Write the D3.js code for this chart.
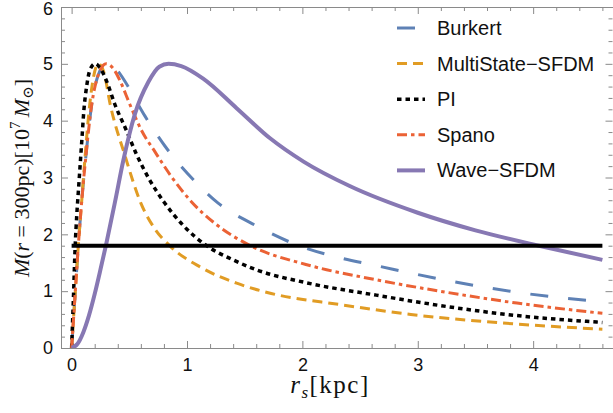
<!DOCTYPE html>
<html>
<head>
<meta charset="utf-8">
<script src="https://cdn.jsdelivr.net/npm/d3@7"></script>
<style>
  html, body { margin: 0; padding: 0; background: #fff; }
  svg { display: block; }
</style>
</head>
<body>
<svg id="chart" width="613" height="413"></svg>
<script>
// Enclosed mass M(r = 300 pc), in units of 1e7 Msun, against the scale radius r_s (kpc)
const burkertRs = [0, 0.03, 0.058, 0.087, 0.125, 0.174, 0.23, 0.30, 0.38, 0.463, 0.55, 0.636, 0.81, 1.07, 1.27, 1.6, 1.97, 2.3, 2.64, 3.25, 3.86, 4.6];
const burkertM  = [0, 0.93, 1.8, 2.57, 3.4, 4.28, 4.8, 5.0, 4.92, 4.69, 4.38, 4.08, 3.55, 2.93, 2.55, 2.15, 1.8, 1.6, 1.45, 1.19, 0.98, 0.81];

const multiStateRs = [0, 0.03, 0.058, 0.087, 0.12, 0.15, 0.18, 0.231, 0.28, 0.333, 0.46, 0.6, 0.72, 0.85, 1.12, 1.43, 1.73, 2.34, 2.94, 3.55, 4.6];
const multiStateM  = [0, 0.93, 1.8, 2.57, 3.45, 4.15, 4.65, 5.0, 4.85, 4.3, 3.4, 2.55, 2.1, 1.8, 1.42, 1.14, 0.96, 0.76, 0.59, 0.47, 0.33];

const piRs = [0, 0.015, 0.03, 0.045, 0.06, 0.075, 0.09, 0.105, 0.13, 0.16, 0.203, 0.25, 0.304, 0.376, 0.47, 0.564, 0.67, 0.8, 0.97, 1.17, 1.4, 1.61, 2.03, 2.64, 3.25, 3.86, 4.6];
const piM  = [0, 0.84, 1.75, 2.35, 2.8, 3.25, 3.7, 4.15, 4.6, 4.9, 5.0, 4.92, 4.69, 4.28, 3.85, 3.4, 2.98, 2.57, 2.15, 1.8, 1.55, 1.37, 1.15, 0.93, 0.73, 0.57, 0.45];

const spanoRs = [0, 0.03, 0.058, 0.087, 0.125, 0.174, 0.23, 0.30, 0.36, 0.42, 0.506, 0.6, 0.723, 0.87, 1.04, 1.25, 1.55, 2.03, 2.64, 3.25, 3.86, 4.6];
const spanoM  = [0, 0.93, 1.8, 2.57, 3.4, 4.28, 4.8, 5.0, 4.92, 4.7, 4.28, 3.85, 3.45, 3.0, 2.57, 2.18, 1.8, 1.47, 1.2, 0.98, 0.79, 0.61];

const waveRs = [0, 0.05, 0.1, 0.15, 0.2, 0.25, 0.3, 0.376, 0.448, 0.549, 0.665, 0.76, 0.84, 0.95, 1.14, 1.43, 1.72, 2.01, 2.41, 3.0, 3.5, 4.05, 4.6];
const waveM  = [0, 0.07, 0.27, 0.57, 0.95, 1.38, 1.83, 2.57, 3.3, 4.12, 4.68, 4.95, 5.0, 4.96, 4.74, 4.22, 3.69, 3.28, 2.85, 2.38, 2.07, 1.8, 1.55];

// Horizontal reference level and its extent in r_s
const referenceM = 1.8;
const referenceRs = [0, 4.6];

const seriesLabels = ["Burkert", "MultiState\u2212SFDM", "PI", "Spano", "Wave\u2212SFDM"];
const xTickValues = [0, 1, 2, 3, 4];
const xTickLabels = ["0", "1", "2", "3", "4"];
const yTickValues = [0, 1, 2, 3, 4, 5, 6];
const yTickLabels = ["0", "1", "2", "3", "4", "5", "6"];

// ---- drawing ----
const svg = d3.select("#chart");
const W = 613, H = 413;
const plot = { left: 61, right: 613, top: 7, bottom: 348 };

svg.append("rect").attr("width", W).attr("height", H).attr("fill", "#fff");

const x = d3.scaleLinear().domain([-0.092, 4.692]).range([plot.left, plot.right]);
const y = d3.scaleLinear().domain([0, 6]).range([plot.bottom, plot.top]);

const frameColor = "#8a8a8a";
const labelFont = "'Liberation Sans', Arial, Helvetica, sans-serif";
const mathFont = "'Liberation Serif', 'Times New Roman', 'DejaVu Serif', serif";

const isMinor = v => Math.abs(v - Math.round(v)) > 1e-6;
const xMinor = d3.range(0, 24).map(i => +(i * 0.2).toFixed(2)).filter(isMinor);
const yMinor = d3.range(0, 31).map(i => +(i * 0.2).toFixed(2)).filter(isMinor);

function styleAxis(g) {
  g.select(".domain").remove();
  g.selectAll(".tick line").attr("stroke", frameColor).attr("stroke-width", 1);
  g.selectAll(".tick text")
    .attr("fill", "#111")
    .style("font-family", labelFont)
    .style("font-size", "18px");
}

// bottom
svg.append("g").attr("transform", `translate(0,${plot.bottom})`)
  .call(d3.axisBottom(x).tickValues(xTickValues).tickFormat((d, i) => xTickLabels[i])
    .tickSizeInner(-7).tickSizeOuter(0).tickPadding(10))
  .call(styleAxis);
svg.append("g").attr("transform", `translate(0,${plot.bottom})`)
  .call(d3.axisBottom(x).tickValues(xMinor).tickFormat("").tickSizeInner(-4).tickSizeOuter(0))
  .call(styleAxis);
// top
svg.append("g").attr("transform", `translate(0,${plot.top})`)
  .call(d3.axisTop(x).tickValues(xTickValues).tickFormat("").tickSizeInner(-7).tickSizeOuter(0))
  .call(styleAxis);
svg.append("g").attr("transform", `translate(0,${plot.top})`)
  .call(d3.axisTop(x).tickValues(xMinor).tickFormat("").tickSizeInner(-4).tickSizeOuter(0))
  .call(styleAxis);
// left
const leftAxis = svg.append("g").attr("transform", `translate(${plot.left},0)`)
  .call(d3.axisLeft(y).tickValues(yTickValues).tickFormat((d, i) => yTickLabels[i])
    .tickSizeInner(-7).tickSizeOuter(0).tickPadding(8))
  .call(styleAxis);
// keep the topmost label inside the canvas
leftAxis.selectAll(".tick text").filter(d => d === 6).attr("dy", "0.36em").attr("y", 1);
svg.append("g").attr("transform", `translate(${plot.left},0)`)
  .call(d3.axisLeft(y).tickValues(yMinor).tickFormat("").tickSizeInner(-4).tickSizeOuter(0))
  .call(styleAxis);
// right
svg.append("g").attr("transform", `translate(${plot.right - 0.5},0)`)
  .call(d3.axisRight(y).tickValues(yTickValues).tickFormat("").tickSizeInner(-7).tickSizeOuter(0))
  .call(styleAxis);
svg.append("g").attr("transform", `translate(${plot.right - 0.5},0)`)
  .call(d3.axisRight(y).tickValues(yMinor).tickFormat("").tickSizeInner(-4).tickSizeOuter(0))
  .call(styleAxis);

// frame
svg.append("rect")
  .attr("x", plot.left + 0.5).attr("y", plot.top + 0.5)
  .attr("width", plot.right - plot.left).attr("height", plot.bottom - plot.top)
  .attr("fill", "none").attr("stroke", frameColor).attr("stroke-width", 1);

// curves
svg.append("defs").append("clipPath").attr("id", "plotClip")
  .append("rect").attr("x", plot.left).attr("y", plot.top)
  .attr("width", plot.right - plot.left).attr("height", plot.bottom - plot.top);

const series = [
  { label: seriesLabels[0], rs: burkertRs,    m: burkertM,    color: "#5E81B5", dash: "18,20",      width: 3 },
  { label: seriesLabels[1], rs: multiStateRs, m: multiStateM, color: "#E19C24", dash: "10,6",       width: 3 },
  { label: seriesLabels[2], rs: piRs,         m: piM,         color: "#000000", dash: "4.5,4",      width: 3.5 },
  { label: seriesLabels[3], rs: spanoRs,      m: spanoM,      color: "#EB6235", dash: "10,4,3.5,4", width: 3 },
  { label: seriesLabels[4], rs: waveRs,       m: waveM,       color: "#8778B3", dash: null,         width: 4 }
];

const line = d3.line().x(d => x(d[0])).y(d => y(d[1])).curve(d3.curveMonotoneX);
const curves = svg.append("g").attr("clip-path", "url(#plotClip)");

series.forEach(s => {
  const pts = s.rs.map((r, i) => [r, s.m[i]]);
  curves.append("path")
    .attr("d", line(pts))
    .attr("fill", "none")
    .attr("stroke", s.color)
    .attr("stroke-width", s.width)
    .attr("stroke-dasharray", s.dash)
    .attr("stroke-linejoin", "round");
});

curves.append("line")
  .attr("x1", x(referenceRs[0])).attr("x2", x(referenceRs[1]))
  .attr("y1", y(referenceM)).attr("y2", y(referenceM))
  .attr("stroke", "#000").attr("stroke-width", 4);

// legend
const legend = svg.append("g");
series.forEach((s, i) => {
  const base = 35 + i * 35.6;
  legend.append("line")
    .attr("x1", 397).attr("x2", 425)
    .attr("y1", base - 7).attr("y2", base - 7)
    .attr("stroke", s.color).attr("stroke-width", s.width)
    .attr("stroke-dasharray", s.dash);
  legend.append("text")
    .attr("x", 437).attr("y", base)
    .attr("fill", "#111")
    .style("font-family", labelFont)
    .style("font-size", "20px")
    .text(s.label);
});

// axis titles
const xt = svg.append("text")
  .attr("x", 330).attr("y", 393)
  .attr("text-anchor", "middle")
  .attr("fill", "#111")
  .style("font-family", mathFont)
  .style("font-size", "25px")
  .style("letter-spacing", "1.5px");
xt.append("tspan").style("font-style", "italic").text("r");
xt.append("tspan").style("font-style", "italic").style("font-size", "17px").attr("dy", 5).text("s");
xt.append("tspan").attr("dy", -5).text("[kpc]");

const yt = svg.append("text")
  .attr("transform", "translate(29,178) rotate(-90)")
  .attr("text-anchor", "middle")
  .attr("fill", "#111")
  .style("font-family", mathFont)
  .style("font-size", "22px");
yt.append("tspan").style("font-style", "italic").text("M");
yt.append("tspan").text("(");
yt.append("tspan").style("font-style", "italic").text("r");
yt.append("tspan").text(" = 300pc)[10");
yt.append("tspan").style("font-size", "15px").attr("dy", -9).text("7");
yt.append("tspan").style("font-style", "italic").attr("dy", 9).text("\u2009M");
yt.append("tspan").style("font-size", "15px").attr("dy", 4).text("\u2299");
yt.append("tspan").attr("dy", -4).text("]");
</script>
</body>
</html>
